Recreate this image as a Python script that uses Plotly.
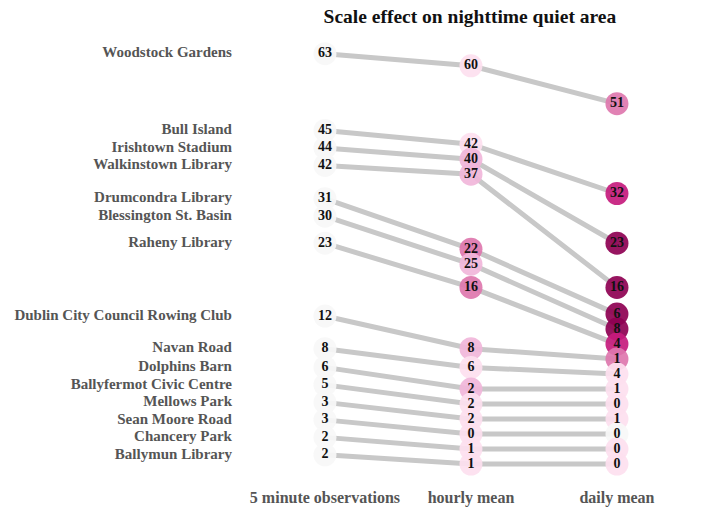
import plotly.graph_objects as go

# values (nighttime quiet area, per site)
locations = [
    "Woodstock Gardens", "Bull Island", "Irishtown Stadium", "Walkinstown Library",
    "Drumcondra Library", "Blessington St. Basin", "Raheny Library",
    "Dublin City Council Rowing Club", "Navan Road", "Dolphins Barn",
    "Ballyfermot Civic Centre", "Mellows Park", "Sean Moore Road",
    "Chancery Park", "Ballymun Library",
]
five_min = [63, 45, 44, 42, 31, 30, 23, 12, 8, 6, 5, 3, 3, 2, 2]
hourly = [60, 42, 40, 37, 22, 25, 16, 8, 6, 2, 2, 2, 0, 1, 1]
daily = [51, 32, 23, 16, 6, 8, 4, 1, 4, 1, 0, 1, 0, 0, 0]
column_labels = ["5 minute observations", "hourly mean", "daily mean"]

# PiYG (pink half) bins for the drop from the previous column
drop_bins = [0, 1, 4, 7, 10, 13]
drop_colors = ["#f7f7f7", "#fde0ef", "#f1b6da", "#de77ae", "#c51b7d", "#8e0152"]

POWER = 0.615      # power scale for y
GAP = 0.467        # minimum distance between circles (scale units)
LABEL_GAP = 0.545  # first column also carries the site names, so more room
FLOOR = 0.0


def place(values, gap=GAP):
    # power scale, then keep the site order and push circles apart
    out = []
    for v in values:
        p = v ** POWER
        if out and p > out[-1] - gap:
            p = out[-1] - gap
        out.append(p)
    for i in range(len(out) - 1, -1, -1):
        limit = FLOOR if i == len(out) - 1 else out[i + 1] + gap
        if out[i] < limit:
            out[i] = limit
    return out


def drop_color(d):
    c = drop_colors[0]
    for b, col in zip(drop_bins, drop_colors):
        if d >= b:
            c = col
    return c


columns = [five_min, hourly, daily]
positions = [place(five_min, LABEL_GAP), place(hourly), place(daily)]
colors = [
    [drop_colors[0]] * len(five_min),
    [drop_color(a - b) for a, b in zip(five_min, hourly)],
    [drop_color(a - b) for a, b in zip(hourly, daily)],
]

fig = go.Figure()

for i, name in enumerate(locations):
    fig.add_trace(go.Scatter(
        x=[0, 1, 2], y=[p[i] for p in positions], mode="lines",
        line=dict(color="#c8c8c8", width=5), hoverinfo="skip", showlegend=False,
    ))

for j, vals in enumerate(columns):
    fig.add_trace(go.Scatter(
        x=[j] * len(vals), y=positions[j], mode="markers+text",
        text=["<b>%d</b>" % v for v in vals], textposition="middle center",
        textfont=dict(family="Liberation Serif", size=14, color="#111111"),
        marker=dict(size=23, color=colors[j], opacity=0.92, line=dict(width=0)),
        hovertext=locations, hoverinfo="text", showlegend=False,
    ))

# site names next to the first column
fig.add_trace(go.Scatter(
    x=[-0.637] * len(locations), y=positions[0], mode="text",
    text=["<b>%s</b>" % n for n in locations], textposition="middle left",
    textfont=dict(family="Liberation Serif", size=15, color="#555555"),
    hoverinfo="skip", showlegend=False,
))

fig.update_layout(
    width=712, height=509,
    margin=dict(l=0, r=0, t=30, b=29),
    paper_bgcolor="white", plot_bgcolor="white",
    title=dict(text="<b>Scale effect on nighttime quiet area</b>",
               x=0.66, xanchor="center", y=0.969, yanchor="middle",
               font=dict(family="Liberation Serif", size=19.5, color="#111111")),
    xaxis=dict(range=[-2.226, 2.651], tickvals=[0, 1, 2],
               ticktext=["<b>%s</b>" % t for t in column_labels],
               tickfont=dict(family="Liberation Serif", size=16, color="#555555"),
               ticklabelstandoff=6, automargin=False,
               showgrid=False, zeroline=False, showline=False, ticks=""),
    yaxis=dict(range=[-0.498, 13.52], visible=False),
)

# drop the default page margin so the figure fills the window
fig.write_html("out.html", config={"displayModeBar": False},
               post_script="document.body.style.margin = '0';")
